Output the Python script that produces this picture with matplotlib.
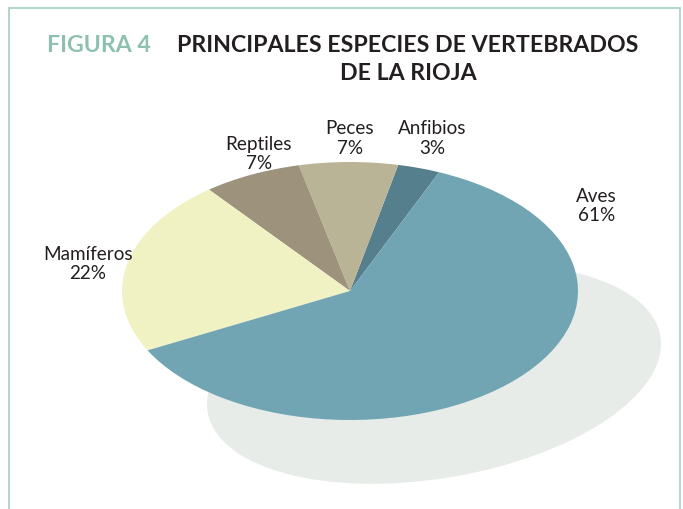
import matplotlib
matplotlib.use("Agg")
import matplotlib.pyplot as plt
from matplotlib.patches import Ellipse
import numpy as np

# Data
categories = ["Anfibios", "Peces", "Reptiles", "Mamíferos", "Aves"]
values = [3, 7, 7, 22, 61]
pct_labels = ["3%", "7%", "7%", "22%", "61%"]
colors = ["#557f8c", "#bab497", "#9d927c", "#f1f2c4", "#71a5b4"]

# label positions (axes data coords, pie radius = 1)
label_pos = [(0.36, 1.19), (0.0, 1.19), (-0.40, 1.07), (-1.15, 0.22), (1.08, 0.67)]

W, H = 683, 510
fig = plt.figure(figsize=(W / 100, H / 100), dpi=100)

# background axes in pixel coordinates (frame + shadow)
bg = fig.add_axes([0, 0, 1, 1])
bg.set_xlim(0, W)
bg.set_ylim(H, 0)
bg.axis("off")
frame_c = "#a2d0c5"
bg.plot([8.5, 8.5, 680, 680], [H, 8.5, 8.5, H], color=frame_c, lw=1.2, solid_joinstyle="miter")
bg.add_patch(Ellipse((434, 375), width=459, height=209, angle=-9.5,
                     facecolor="#e8ece8", edgecolor="none"))

bg.text(47, 45, "FIGURA 4", fontsize=16.7, fontweight="bold", family="Lato",
        color="#8dc0b0", ha="left", va="center")
bg.text(408, 45, "PRINCIPALES ESPECIES DE VERTEBRADOS", fontsize=16.7,
        fontweight="bold", family="Lato", color="#231f20", ha="center", va="center")
bg.text(408, 73, "DE LA RIOJA", fontsize=16.7, fontweight="bold", family="Lato",
        color="#231f20", ha="center", va="center")

# pie axes (elliptical through auto aspect)
ax = fig.add_axes([122 / W, 89 / H, 456 / W, 258 / H])
ax.patch.set_alpha(0)
wedges, _ = ax.pie(values, colors=colors, startangle=67, counterclock=True,
                   radius=1, wedgeprops=dict(linewidth=0))
ax.set_aspect("auto")
ax.set_xlim(-1, 1)
ax.set_ylim(-1, 1)
ax.axis("off")

for name, pct, (x, y) in zip(categories, pct_labels, label_pos):
    ax.text(x, y, f"{name}\n{pct}", ha="center", va="center", fontsize=13.6,
            family="Lato", color="#231f20", linespacing=1.15, clip_on=False)

fig.savefig("out.png", dpi=100)
